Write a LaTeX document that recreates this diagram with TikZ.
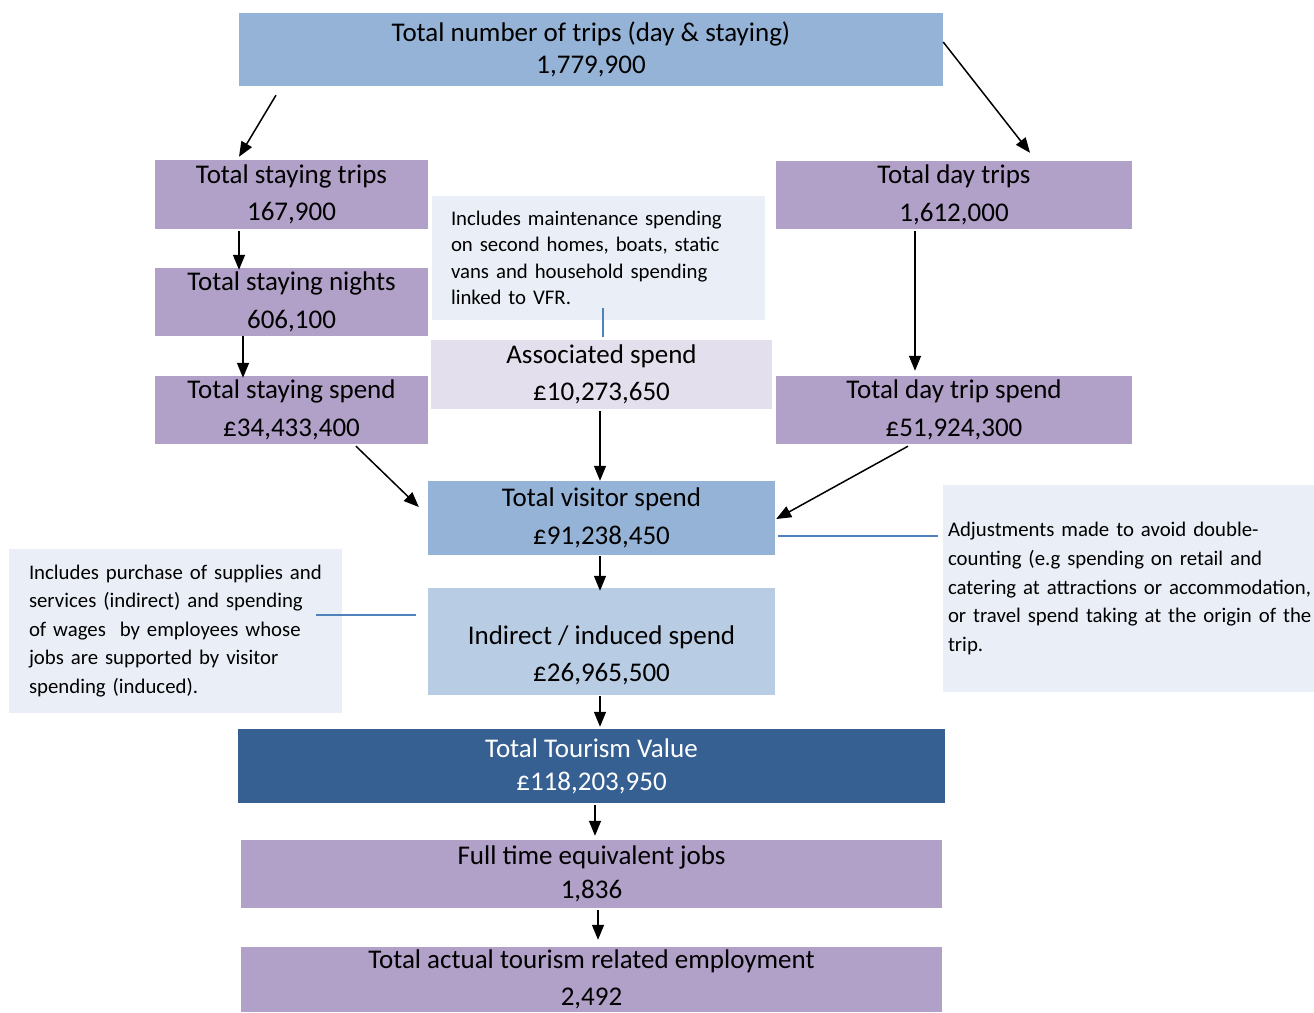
\documentclass[tikz,border=0pt]{standalone}
\usepackage{fontspec}
\setmainfont{Carlito}
\usetikzlibrary{arrows.meta,calc}
\definecolor{topblue}{HTML}{95B3D7}
\definecolor{purp}{HTML}{B1A0C7}
\definecolor{lav}{HTML}{E4DFEC}
\definecolor{notebg}{HTML}{EAEFF7}
\definecolor{lightblue}{HTML}{B8CCE4}
\definecolor{darkblue}{HTML}{366092}
\definecolor{linkblue}{HTML}{4F81BD}
\tikzset{
  box/.style={rectangle, inner sep=0pt, align=center, text=black,
    font={\fontsize{27}{37.5}\selectfont}},
  notebox/.style={rectangle, fill=notebg, inner ysep=0pt, align=left, text=black,
    font={\fontsize{20.8}{26.5}\selectfont}},
  flow/.style={line width=1.5pt, black, -{Triangle[length=15pt,width=12pt]}},
  link/.style={line width=1.3pt, linkblue},
}
\begin{document}
\begin{tikzpicture}[x=1pt,y=-1pt]
\useasboundingbox (0,0) rectangle (1314,1012);
% boxes
\node[box, fill=topblue, minimum width=704, minimum height=73,
  font={\fontsize{27}{32}\selectfont}] (top) at (591,49.5)
  {Total number of trips (day \& staying)\\1,779,900};
\node[box, fill=purp, minimum width=273, minimum height=69] (strips) at (291.5,194.5)
  {Total staying trips\\167,900};
\node[box, fill=purp, minimum width=273, minimum height=68] (snights) at (291.5,302)
  {Total staying nights\\606,100};
\node[box, fill=purp, minimum width=273, minimum height=68] (sspend) at (291.5,410)
  {Total staying spend\\\pounds34,433,400};
\node[box, fill=purp, minimum width=356, minimum height=68] (dtrips) at (954,195)
  {Total day trips\\1,612,000};
\node[box, fill=purp, minimum width=356, minimum height=68] (dspend) at (954,410)
  {Total day trip spend\\\pounds51,924,300};
\node[notebox, inner xsep=19pt, text width=295, minimum height=124] (note1) at (598.5,258)
  {Includes maintenance spending\\on second homes, boats, static\\vans and household spending\\linked to VFR.};
\node[box, fill=lav, minimum width=341, minimum height=69] (assoc) at (601.5,374.5)
  {Associated spend\\\pounds10,273,650};
\node[box, fill=topblue, minimum width=347, minimum height=74] (visitor) at (601.5,518)
  {Total visitor spend\\\pounds91,238,450};
\node[box, fill=lightblue, minimum width=347, minimum height=107] (ind) at (601.5,641.5) {};
\node[box] (indt) at ($(ind.center)+(0,14)$) {Indirect / induced spend\\\pounds26,965,500};
\node[notebox, inner xsep=20pt, text width=293, minimum height=164,
  font={\fontsize{20.8}{28.5}\selectfont}] (noteL) at (175.5,631)
  {Includes purchase of supplies and\\services (indirect) and spending\\of wages\ \ by employees whose\\jobs are supported by visitor\\spending (induced).};
\node[notebox, inner xsep=5pt, text width=380, minimum height=207,
  font={\fontsize{20.8}{28.75}\selectfont\hyphenpenalty=10000}] (noteR) at (1138,588.5)
  {Adjustments made to avoid double-\\counting (e.g spending on retail and\\catering at attractions or accommodation,\\or travel spend taking at the origin of the\\trip.};
\node[box, fill=darkblue, text=white, minimum width=707, minimum height=74,
  font={\fontsize{27}{33}\selectfont}] (ttv) at (591.5,766)
  {Total Tourism Value\\\pounds118,203,950};
\node[box, fill=purp, minimum width=701, minimum height=68,
  font={\fontsize{27}{34}\selectfont}] (fte) at (591.5,874)
  {Full time equivalent jobs\\1,836};
\node[box, fill=purp, minimum width=701, minimum height=65] (emp) at (591.5,979.5)
  {Total actual tourism related employment\\2,492};
% link lines
\draw[link] ($(note1.south)+(4.5,-12)$) -- ($(assoc.north)+(1.5,-3)$);
\draw[link] ($(noteL.east)+(-26,-16)$) -- ($(ind.west)+(-12,-26.5)$);
\draw[link] ($(visitor.east)+(3,18)$) -- ($(noteR.west)+(-5,-52.5)$);
% arrows
\draw[flow] ($(top.south)+(-315,9)$) -- ($(strips.north)+(-52.5,-3)$);
\draw[flow] ($(top.east)+(0,-7.5)$) -- ($(dtrips.north)+(76,-8)$);
\draw[flow] ($(strips.south)+(-52.5,2)$) -- ($(snights.north)+(-52.5,2)$);
\draw[flow] ($(snights.south)+(-48.5,0)$) -- ($(sspend.north)+(-48.5,2)$);
\draw[flow] ($(dtrips.south)+(-39,2)$) -- ($(dspend.north)+(-39,-5)$);
\draw[flow] ($(sspend.south)+(64.5,2)$) -- ($(visitor.west)+(-9,-11)$);
\draw[flow] ($(assoc.south)+(-1.5,2)$) -- ($(visitor.north)+(-1.5,0)$);
\draw[flow] ($(dspend.south)+(-46,2)$) -- ($(visitor.east)+(1,1)$);
\draw[flow] ($(visitor.south)+(-1.5,1)$) -- ($(ind.north)+(-1.5,3)$);
\draw[flow] ($(ind.south)+(-1.5,1)$) -- ($(ttv.north)+(8.5,-2)$);
\draw[flow] ($(ttv.south)+(3.5,2)$) -- ($(fte.north)+(3.5,-4)$);
\draw[flow] ($(fte.south)+(6.5,2)$) -- ($(emp.north)+(6.5,-7)$);
\end{tikzpicture}
\end{document}
